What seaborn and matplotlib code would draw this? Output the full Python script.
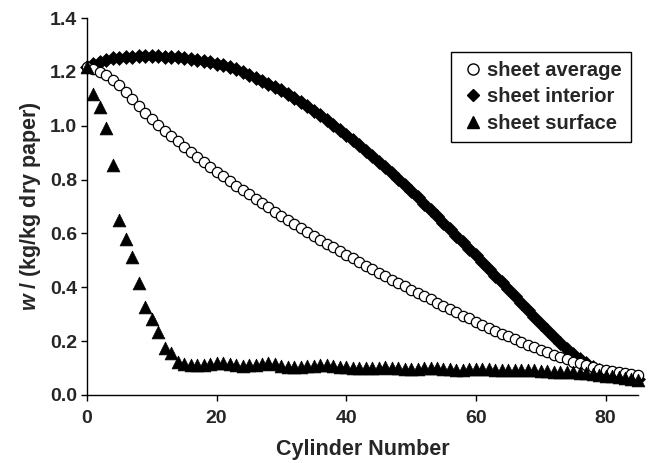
import numpy as np
import pandas as pd
import matplotlib
matplotlib.use("Agg")
import matplotlib.pyplot as plt
from matplotlib.lines import Line2D
import seaborn as sns

sns.set_theme(style="ticks")
plt.rcParams['font.family'] = ['Liberation Sans', 'DejaVu Sans']
plt.rcParams['font.weight'] = 'bold'
plt.rcParams['mathtext.fontset'] = 'custom'
plt.rcParams['mathtext.bfit'] = 'Liberation Sans:italic:bold'

cylinder = list(range(0, 86))

sheet_average = [
    1.220, 1.212, 1.200, 1.187, 1.170, 1.150, 1.124, 1.098, 1.072, 1.048,
    1.025, 1.003, 0.982, 0.962, 0.942, 0.922, 0.903, 0.884, 0.866, 0.848,
    0.830, 0.812, 0.795, 0.778, 0.761, 0.745, 0.729, 0.713, 0.697, 0.681,
    0.666, 0.651, 0.636, 0.621, 0.606, 0.591, 0.577, 0.562, 0.548, 0.534,
    0.520, 0.507, 0.493, 0.480, 0.467, 0.454, 0.441, 0.428, 0.415, 0.403,
    0.391, 0.379, 0.367, 0.355, 0.343, 0.331, 0.319, 0.307, 0.295, 0.284,
    0.272, 0.261, 0.250, 0.239, 0.228, 0.218, 0.207, 0.197, 0.187, 0.177,
    0.168, 0.158, 0.149, 0.141, 0.132, 0.124, 0.117, 0.110, 0.103, 0.097,
    0.092, 0.088, 0.084, 0.080, 0.077, 0.075,
]

sheet_interior = [
    1.220, 1.230, 1.238, 1.245, 1.250, 1.253, 1.255, 1.257, 1.258, 1.258,
    1.258, 1.258, 1.257, 1.256, 1.254, 1.252, 1.249, 1.245, 1.240, 1.235,
    1.230, 1.224, 1.217, 1.209, 1.200, 1.190, 1.179, 1.168, 1.156, 1.144,
    1.131, 1.117, 1.103, 1.088, 1.072, 1.056, 1.039, 1.022, 1.004, 0.986,
    0.967, 0.948, 0.928, 0.908, 0.888, 0.867, 0.846, 0.824, 0.802, 0.780,
    0.757, 0.734, 0.711, 0.688, 0.664, 0.640, 0.616, 0.592, 0.568, 0.543,
    0.518, 0.493, 0.468, 0.443, 0.418, 0.392, 0.366, 0.341, 0.315, 0.290,
    0.265, 0.240, 0.216, 0.193, 0.171, 0.151, 0.133, 0.117, 0.104, 0.094,
    0.086, 0.079, 0.073, 0.068, 0.064, 0.060,
]

sheet_surface = [
    1.220, 1.117, 1.068, 0.990, 0.853, 0.649, 0.581, 0.511, 0.416, 0.327,
    0.283, 0.233, 0.175, 0.157, 0.122, 0.115, 0.113, 0.112, 0.112, 0.115,
    0.120, 0.118, 0.115, 0.111, 0.108, 0.110, 0.113, 0.116, 0.117, 0.114,
    0.109, 0.105, 0.102, 0.103, 0.106, 0.109, 0.111, 0.110, 0.107, 0.104,
    0.102, 0.100, 0.099, 0.099, 0.100, 0.101, 0.102, 0.101, 0.099, 0.097,
    0.096, 0.097, 0.099, 0.100, 0.099, 0.097, 0.095, 0.094, 0.094, 0.095,
    0.096, 0.097, 0.096, 0.094, 0.092, 0.091, 0.091, 0.092, 0.093, 0.092,
    0.090, 0.088, 0.086, 0.085, 0.084, 0.084, 0.083, 0.081, 0.078, 0.075,
    0.072, 0.069, 0.066, 0.063, 0.060, 0.057,
]

series_names = ["sheet average", "sheet interior", "sheet surface"]
x_ticks = [0, 20, 40, 60, 80]
y_ticks = [0.0, 0.2, 0.4, 0.6, 0.8, 1.0, 1.2, 1.4]

df = pd.DataFrame({
    "cylinder": cylinder * 3,
    "w": sheet_average + sheet_interior + sheet_surface,
    "series": [series_names[0]] * len(cylinder) + [series_names[1]] * len(cylinder)
              + [series_names[2]] * len(cylinder),
})

fig = plt.figure(figsize=(6.49, 4.63), dpi=100)
ax = fig.add_axes([0.134, 0.147, 0.849, 0.814])

styles = {
    "sheet interior": dict(marker="D", s=50, facecolor="black", edgecolor="black", linewidth=0.5, zorder=2),
    "sheet average": dict(marker="o", s=55, facecolor="white", edgecolor="black", linewidth=0.9, zorder=3),
    "sheet surface": dict(marker="^", s=85, facecolor="black", edgecolor="black", linewidth=0.5, zorder=4),
}
for name in ["sheet interior", "sheet average", "sheet surface"]:
    st = styles[name]
    sub = df[df["series"] == name]
    sns.scatterplot(data=sub, x="cylinder", y="w", ax=ax, marker=st["marker"], s=st["s"],
                    color=st["facecolor"], edgecolor=st["edgecolor"], linewidth=st["linewidth"],
                    zorder=st["zorder"], legend=False, clip_on=False)

ax.set_xlim(0, 85)
ax.set_ylim(0, 1.4)
ax.set_xticks(x_ticks)
ax.set_yticks(y_ticks)
ax.set_xticklabels([str(t) for t in x_ticks], fontsize=14, fontweight="bold")
ax.set_yticklabels([f"{t:.1f}" for t in y_ticks], fontsize=14, fontweight="bold")
ax.tick_params(axis="both", direction="out", length=4.2, width=1, color="black")
ax.tick_params(axis="x", pad=7)
ax.tick_params(axis="y", pad=3)
for sp in ["top", "right"]:
    ax.spines[sp].set_visible(False)
for sp in ["left", "bottom"]:
    ax.spines[sp].set_color("black")
    ax.spines[sp].set_linewidth(1)

ax.set_xlabel("Cylinder Number", fontsize=15.5, fontweight="bold", labelpad=8)
ax.set_ylabel(r"$\mathbfit{w}$ / (kg/kg dry paper)", fontsize=15.5, fontweight="bold", labelpad=5)

handles = [
    Line2D([], [], linestyle="none", marker="o", markersize=8, markerfacecolor="white", markeredgecolor="black", markeredgewidth=1),
    Line2D([], [], linestyle="none", marker="D", markersize=6.5, markerfacecolor="black", markeredgecolor="black"),
    Line2D([], [], linestyle="none", marker="^", markersize=9, markerfacecolor="black", markeredgecolor="black"),
]
leg = fig.legend(handles, series_names, loc="upper left", bbox_to_anchor=(0.695, 0.888),
                 frameon=True, fancybox=False, edgecolor="black", framealpha=1,
                 prop={"size": 14.5, "weight": "bold"}, handlelength=1.25, handletextpad=0.08,
                 borderpad=0.45, labelspacing=0.37, borderaxespad=0)
leg.get_frame().set_linewidth(1)

fig.savefig("out.png", dpi=100)
